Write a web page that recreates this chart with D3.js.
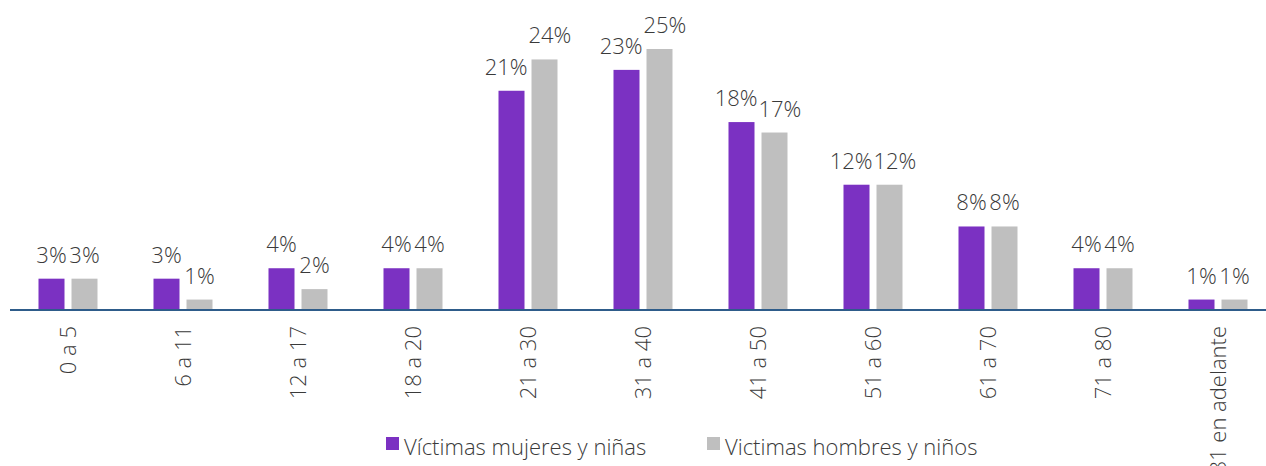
<!DOCTYPE html>
<html>
<head>
<meta charset="utf-8">
<script src="https://cdn.jsdelivr.net/npm/d3@7"></script>
<style>
  body { margin: 0; background: #fff; }
  text { font-family: "Open Sans", Lato, sans-serif; font-weight: 300; fill: #3A3A3A; }
</style>
</head>
<body>
<div id="chart"></div>
<script>
const categories = ["0 a 5", "6 a 11", "12 a 17", "18 a 20", "21 a 30", "31 a 40", "41 a 50", "51 a 60", "61 a 70", "71 a 80", "81 en adelante"];
const mujeres = [3, 3, 4, 4, 21, 23, 18, 12, 8, 4, 1];
const hombres = [3, 1, 2, 4, 24, 25, 17, 12, 8, 4, 1];
const seriesNames = ["Víctimas mujeres y niñas", "Victimas hombres y niños"];
const colors = ["#7B31C2", "#BFBFBF"];

const dimension = {
    width: 1266,
    height: 466,
    margin: { top: 0, left: 10.5, right: -9.5, bottom: 0 },
    baseline: 310
};

const svg = d3.select("#chart").append("svg")
    .attr("width", dimension.width)
    .attr("height", dimension.height);

const x = d3.scaleBand()
    .domain(categories)
    .range([dimension.margin.left, dimension.width - dimension.margin.right])
    .paddingInner(0)
    .paddingOuter(0);

const y = d3.scaleLinear()
    .domain([0, 25])
    .range([dimension.baseline, 49]);

const barW = 26, gap = 7;
const rows = categories.map((c, i) => ({ c, vals: [mujeres[i], hombres[i]] }));
const barCenter = j => (j === 0 ? -gap / 2 - barW / 2 : gap / 2 + barW / 2);

const groups = svg.append("g").selectAll("g")
    .data(rows)
    .join("g")
    .attr("transform", d => `translate(${x(d.c) + x.bandwidth() / 2},0)`);

groups.selectAll("rect")
    .data(d => d.vals)
    .join("rect")
    .attr("x", (v, j) => barCenter(j) - barW / 2)
    .attr("y", v => y(v))
    .attr("width", barW)
    .attr("height", v => y(0) - y(v))
    .attr("fill", (v, j) => colors[j]);

groups.each(function() {
    const labels = d3.select(this).selectAll("text.val")
        .data(d => d.vals)
        .join("text")
        .attr("class", "val")
        .attr("x", (v, j) => barCenter(j))
        .attr("y", v => y(v) - 16)
        .attr("text-anchor", "middle")
        .attr("font-size", 22)
        .text(v => v + "%");
    // push the two labels apart when they collide horizontally
    const nodes = labels.nodes();
    const w0 = nodes[0].getComputedTextLength(), w1 = nodes[1].getComputedTextLength();
    const overlap = (barCenter(0) + w0 / 2) - (barCenter(1) - w1 / 2);
    if (overlap > 0) {
        d3.select(nodes[0]).attr("x", barCenter(0) - overlap / 2 - 0.5);
        d3.select(nodes[1]).attr("x", barCenter(1) + overlap / 2 + 0.5);
    }
});

// axis
const xAxis = d3.axisBottom(x).tickSize(0).tickPadding(0);
const axisG = svg.append("g")
    .attr("transform", `translate(0,${dimension.baseline})`)
    .call(xAxis);
axisG.select(".domain")
    .attr("stroke", "#2E5C8A")
    .attr("stroke-width", 2)
    .attr("d", `M10,0H1266`);
axisG.selectAll(".tick text")
    .attr("font-size", 22)
    .attr("transform", "rotate(-90)")
    .attr("text-anchor", "end")
    .attr("dy", "0.35em")
    .attr("x", -16)
    .attr("y", 0)
    .style("font-family", "'Open Sans', Lato, sans-serif")
    .style("font-weight", 300)
    .style("fill", "#3A3A3A");

// legend
const legendX = [386, 707];
const legend = svg.append("g").selectAll("g")
    .data(seriesNames)
    .join("g")
    .attr("transform", (d, i) => `translate(${legendX[i]},437)`);
legend.append("rect")
    .attr("width", 13)
    .attr("height", 13)
    .attr("fill", (d, i) => colors[i]);
legend.append("text")
    .attr("x", 18)
    .attr("y", 18)
    .attr("font-size", 22)
    .text(d => d);
</script>
</body>
</html>
